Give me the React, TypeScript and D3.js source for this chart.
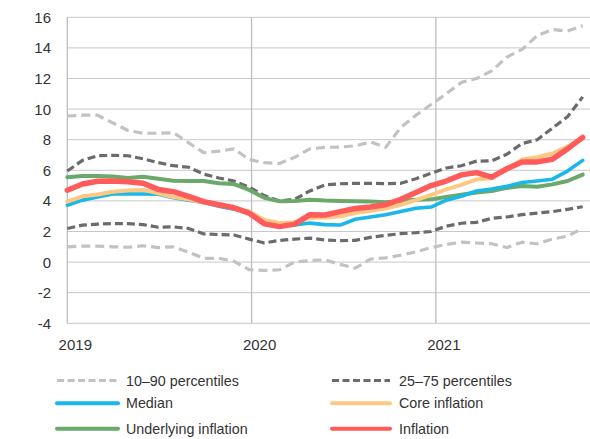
import React from "react";
import * as d3 from "d3";

const yearTicks = [2019, 2020, 2021];
const yTicks = [-4, -2, 0, 2, 4, 6, 8, 10, 12, 14, 16];

// observations, roughly monthly from Jan 2019
const p10 = [1.0, 1.05, 1.05, 1.0, 0.97, 1.07, 0.95, 1.0, 0.65, 0.25, 0.25, 0.05, -0.5, -0.55, -0.5, 0.0, 0.1, 0.15, -0.15, -0.4, 0.2, 0.28, 0.45, 0.67, 0.95, 1.15, 1.3, 1.25, 1.2, 0.95, 1.3, 1.2, 1.5, 1.7, 2.2];
const p90 = [9.55, 9.6, 9.6, 9.1, 8.6, 8.42, 8.42, 8.46, 7.8, 7.15, 7.25, 7.4, 6.7, 6.5, 6.45, 6.85, 7.4, 7.5, 7.52, 7.6, 7.85, 7.5, 8.8, 9.6, 10.3, 11.0, 11.75, 12.0, 12.5, 13.4, 13.9, 14.8, 15.2, 15.1, 15.45];
const p25 = [2.2, 2.42, 2.48, 2.52, 2.52, 2.45, 2.28, 2.3, 2.2, 1.84, 1.8, 1.77, 1.5, 1.25, 1.42, 1.5, 1.57, 1.45, 1.4, 1.42, 1.62, 1.75, 1.86, 1.92, 2.0, 2.35, 2.54, 2.6, 2.86, 2.95, 3.1, 3.2, 3.3, 3.45, 3.62];
const p75 = [5.95, 6.65, 6.95, 6.98, 6.95, 6.75, 6.5, 6.3, 6.2, 5.75, 5.5, 5.3, 4.9, 4.35, 4.0, 4.1, 4.65, 5.05, 5.12, 5.15, 5.15, 5.12, 5.15, 5.45, 5.8, 6.15, 6.3, 6.6, 6.62, 7.05, 7.75, 8.0, 8.75, 9.5, 10.8];
const median = [3.72, 4.05, 4.25, 4.45, 4.47, 4.45, 4.43, 4.2, 4.05, 3.9, 3.65, 3.45, 3.3, 2.6, 2.4, 2.42, 2.55, 2.45, 2.42, 2.8, 2.95, 3.1, 3.3, 3.52, 3.6, 4.05, 4.3, 4.65, 4.78, 4.95, 5.2, 5.3, 5.42, 5.95, 6.65];
const core = [3.95, 4.3, 4.42, 4.6, 4.68, 4.72, 4.5, 4.25, 4.1, 3.9, 3.75, 3.55, 3.3, 2.75, 2.55, 2.6, 2.88, 2.92, 3.0, 3.2, 3.35, 3.5, 3.75, 4.05, 4.4, 4.75, 5.05, 5.4, 5.5, 6.1, 6.7, 6.85, 7.1, 7.55, 8.1];
const underlying = [5.55, 5.63, 5.63, 5.6, 5.5, 5.58, 5.45, 5.32, 5.3, 5.3, 5.15, 5.1, 4.72, 4.2, 3.97, 4.0, 4.08, 4.02, 4.0, 3.98, 3.96, 3.92, 4.0, 4.08, 4.1, 4.25, 4.4, 4.55, 4.65, 4.85, 4.98, 4.93, 5.08, 5.3, 5.72];
const inflation = [4.7, 5.1, 5.28, 5.3, 5.25, 5.15, 4.75, 4.6, 4.3, 3.95, 3.75, 3.55, 3.2, 2.5, 2.32, 2.48, 3.1, 3.08, 3.3, 3.5, 3.6, 3.75, 4.1, 4.55, 5.0, 5.3, 5.7, 5.85, 5.55, 6.1, 6.55, 6.55, 6.72, 7.4, 8.15];

const seriesNames = ["10–90 percentiles", "25–75 percentiles", "Median", "Core inflation", "Underlying inflation", "Inflation"];

const W = 590;
const H = 439;
const left = 67.3;
const right = 582.7;
const endYear = 2021.797;

export default function App() {
  const x = d3.scaleLinear().domain([2019, endYear]).range([left, right]);
  const y = d3.scaleLinear().domain([-4, 16]).range([323.3, 17.3]);
  const n = inflation.length;
  const t = (i: number) => 2019 + (i * (endYear - 2019)) / (n - 1);
  const line = d3
    .line<number>()
    .x((_, i) => x(t(i)))
    .y((d) => y(d))
    .curve(d3.curveLinear);

  const font = "'Liberation Sans', Arial, sans-serif";
  const grid = "#c8c8c8";

  const styles: Record<string, { color: string; width: number; dash?: string }> = {
    p10: { color: "#c2c2c2", width: 3.2, dash: "9,5" },
    p25: { color: "#6b6b6b", width: 3.2, dash: "8,4" },
    median: { color: "#1ab7ea", width: 3.6 },
    core: { color: "#ffc882", width: 4 },
    underlying: { color: "#6aa96a", width: 4 },
    inflation: { color: "#ff5b5b", width: 5.5 },
  };

  const legend = [
    { name: seriesNames[0], s: styles.p10, col: 0, row: 0 },
    { name: seriesNames[1], s: styles.p25, col: 1, row: 0 },
    { name: seriesNames[2], s: styles.median, col: 0, row: 1 },
    { name: seriesNames[3], s: styles.core, col: 1, row: 1 },
    { name: seriesNames[4], s: styles.underlying, col: 0, row: 2 },
    { name: seriesNames[5], s: styles.inflation, col: 1, row: 2 },
  ];
  const rowY = [380.5, 403.3, 428.8];
  const colX = [57, 332];
  const swatchW = [61, 58];
  const textX = [126, 399];

  const path = (d: number[], key: string) => {
    const s = styles[key];
    return (
      <path
        d={line(d) || ""}
        fill="none"
        stroke={s.color}
        strokeWidth={s.width}
        strokeDasharray={s.dash}
        strokeLinejoin="round"
        strokeLinecap={s.dash ? "butt" : "round"}
      />
    );
  };

  return (
    <svg
      width={W}
      height={H}
      style={{ position: "absolute", left: 0, top: 0, display: "block", background: "#fff" }}
    >
      {yTicks.map((v) => (
        <line key={"g" + v} x1={left} x2={W} y1={y(v)} y2={y(v)} stroke={grid} strokeWidth={1} />
      ))}
      {yearTicks.map((yr) => (
        <line key={"v" + yr} x1={x(yr)} x2={x(yr)} y1={y(16)} y2={y(-4)} stroke="#bdbdbd" strokeWidth={1.3} />
      ))}
      {yTicks.map((v) => (
        <text
          key={"t" + v}
          x={51}
          y={y(v)}
          dy="0.36em"
          textAnchor="end"
          fontFamily={font}
          fontSize={15}
          fill="#333"
        >
          {v}
        </text>
      ))}
      {yearTicks.map((yr) => (
        <text
          key={"x" + yr}
          x={x(yr) + 8}
          y={350}
          textAnchor="middle"
          fontFamily={font}
          fontSize={15}
          fill="#333"
        >
          {yr}
        </text>
      ))}
      {path(p90, "p10")}
      {path(p10, "p10")}
      {path(p75, "p25")}
      {path(p25, "p25")}
      {path(underlying, "underlying")}
      {path(median, "median")}
      {path(core, "core")}
      {path(inflation, "inflation")}
      {legend.map((l) => (
        <g key={l.name}>
          <line
            x1={colX[l.col]}
            x2={colX[l.col] + swatchW[l.col]}
            y1={rowY[l.row]}
            y2={rowY[l.row]}
            stroke={l.s.color}
            strokeWidth={l.s.dash ? 3 : 4}
            strokeDasharray={l.s.dash ? "7,3.5" : undefined}
            strokeLinecap={l.s.dash ? "butt" : "round"}
          />
          <text
            x={textX[l.col]}
            y={rowY[l.row]}
            dy="0.36em"
            fontFamily={font}
            fontSize={14.3}
            fill="#333"
          >
            {l.name}
          </text>
        </g>
      ))}
    </svg>
  );
}
